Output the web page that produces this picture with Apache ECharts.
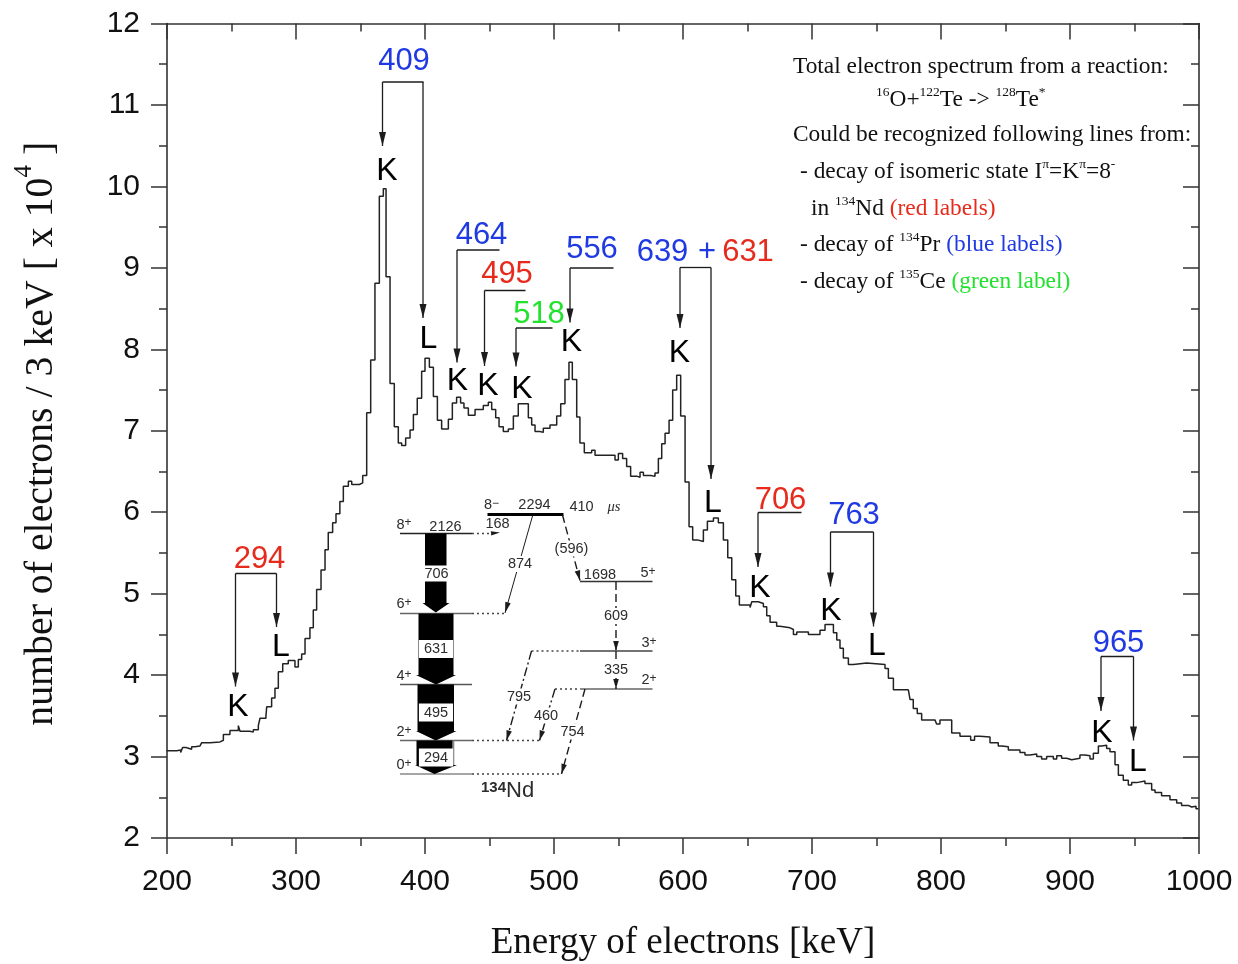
<!DOCTYPE html>
<html><head><meta charset="utf-8">
<style>html,body{margin:0;padding:0;background:#fff}#c{width:1238px;height:964px}</style>
<script src="https://cdn.jsdelivr.net/npm/echarts@6/dist/echarts.min.js"></script>
</head><body><div id="c"></div>
<script>
const energies = [199.7,207.5,210.6,212.1,214.7,219.1,221.7,225.6,226.9,233.3,241.1,243.7,248.8,255.3,256.6,264.3,266.9,270.8,272.1,276.7,277.3,281.1,283.7,286.3,289.7,294,299.2,301.8,304.4,307,310.8,313.4,316,319.4,322.5,325,328.4,331,334,336.7,340.6,343.2,349.1,351.7,354.8,357.9,361.2,364.6,367.7,369.8,372.9,376.2,379.3,381.9,385,388.4,391,394,397.4,400,403.4,406.5,409.6,412.9,418.1,421.2,424.5,427.6,430.2,433.6,438.8,445.2,449.1,451.7,454.8,457.4,460.7,464.6,468.5,472.3,477.5,480.1,482.7,485.3,489.1,491.7,496.9,502.1,505.2,508.5,511.6,514.2,517.6,520.1,523.5,529.2,531.8,547.3,549.9,553.2,556.3,559.4,564.6,566.7,569.3,575,578.3,580.9,583.5,586.1,589.2,592,595.1,598.2,601.6,604.7,607.5,611.2,615.8,618.9,623.6,627.4,631.3,634.7,637.8,640.9,643.7,652,653.3,658.4,662.3,664.9,667.5,672.6,675.2,683,685.6,688.2,694.6,697.2,703.7,706.2,710.1,712.7,716.6,719.2,721.7,724.3,728.2,732.1,733.4,742.4,756.6,759.2,763.1,774.7,776,778.5,781.6,785,795.3,796.6,799.2,804.9,808.3,814.7,820.4,823,826,830.2,838,844.4,847,852.2,856,861.2,865.1,869,874.2,878,881.9,887.1,889.7,893.5,897.4,901.3,907.7,911.6,915.5,918.1,922,924.5,928.4,931,934.9,937.5,941.3,945.2,947.8,951.7,958.1,959.4,963.3,965.9,971,977.5,982.7,986.5,991.7,994.3,997.7,999.5];
const counts = [3.07,3.08,3.05,3.11,3.09,3.12,3.13,3.12,3.17,3.18,3.20,3.27,3.32,3.38,3.31,3.30,3.33,3.38,3.47,3.50,3.61,3.72,3.84,4.04,4.14,4.18,4.10,4.19,4.26,4.45,4.58,4.80,5.05,5.29,5.54,5.75,5.87,5.98,6.13,6.32,6.38,6.34,6.36,6.45,7.22,7.87,8.81,9.88,9.97,8.89,7.58,7.05,6.85,6.82,6.91,7.01,7.20,7.40,7.73,7.89,7.78,7.42,7.13,7.02,7.14,7.34,7.41,7.34,7.28,7.19,7.26,7.31,7.35,7.26,7.16,7.05,6.99,7.02,7.18,7.33,7.33,7.16,7.07,6.99,6.98,7.03,7.07,7.18,7.33,7.63,7.84,7.63,7.17,6.85,6.73,6.76,6.70,6.64,6.72,6.66,6.56,6.44,6.43,6.49,6.45,6.44,6.48,6.66,6.84,6.97,7.13,7.50,7.68,7.18,6.37,5.82,5.66,5.64,5.78,5.89,5.93,5.87,5.66,5.44,5.17,4.97,4.86,4.83,4.90,4.88,4.84,4.73,4.65,4.60,4.58,4.56,4.50,4.53,4.53,4.50,4.50,4.55,4.62,4.62,4.52,4.43,4.33,4.21,4.13,4.12,4.15,4.13,4.08,3.96,3.82,3.80,3.70,3.59,3.53,3.45,3.44,3.40,3.45,3.45,3.29,3.25,3.25,3.20,3.25,3.24,3.17,3.13,3.12,3.08,3.08,3.05,3.02,3.03,3.00,2.97,3.00,2.97,3.01,2.98,2.96,2.98,3.02,3.01,2.97,3.04,3.13,3.14,3.10,3.06,2.90,2.77,2.71,2.65,2.68,2.70,2.67,2.67,2.59,2.56,2.52,2.47,2.43,2.40,2.38,2.39,2.36,2.36,2.32];
const xTicks = [200,1000,100];
const yTicks = [2,12,1];
const xTitle = 'Energy of electrons [keV]';
const yTitle = '{n|number of electrons / 3 keV [ x 10}{s|4}{n| ]}';

const SANS = '"Liberation Sans", Arial, sans-serif', SERIF = '"Liberation Serif", "Times New Roman", serif';
const RED = '#e62a1c', BLUE = '#1f3ae2', GREEN = '#22e22e', INK = '#1c1c1c';
const g = [];
const label = (t, x, y, fill, size) => g.push({type:'text', silent:true, x, y:y+2, z:20, style:{text:t, fill, fontFamily:SANS, fontSize:size||31, align:'center', verticalAlign:'middle'}});
const seg = (x1,y1,x2,y2,o={}) => g.push({type:'line', silent:true, z:19, shape:{x1,y1,x2,y2}, style:{stroke:o.c||INK, lineWidth:o.w||1.3, lineDash:o.d||null}});
const head = (x1,y1,x2,y2,len=14,wid=3.5,c=INK) => {
  const a = Math.atan2(y2-y1,x2-x1), bx=x2-len*Math.cos(a), by=y2-len*Math.sin(a), nx=-Math.sin(a)*wid, ny=Math.cos(a)*wid;
  g.push({type:'polygon', silent:true, z:19, shape:{points:[[x2,y2],[bx+nx,by+ny],[bx-nx,by-ny]]}, style:{fill:c}});
};
const arrow = (x1,y1,x2,y2,o={}) => { seg(x1,y1,x2,y2,o); head(x1,y1,x2,y2,o.len,o.wid); };

// peak annotations: [text, colour, tx, ty, xLeft, xRight, bracketY]
const brackets = [
 ['409',BLUE,404,59.5,382.5,423.5,82],
 ['294',RED,259.5,557,235.5,276.5,573.5],
 ['464',BLUE,481.5,233,457,499.5,250],
 ['495',RED,507,272.5,484.5,525.5,290.5],
 ['518',GREEN,539,312,516,552.5,328],
 ['556',BLUE,592,247.5,570,613.5,268],
 ['706',RED,780.5,498,758,801.5,512.5],
 ['763',BLUE,854,513,830.5,873.5,532],
 ['965',BLUE,1118.5,641,1101,1133.5,656.5]
];
brackets.forEach(b=>{ label(b[0],b[2],b[3],b[1]); seg(b[4],b[6],b[5],b[6]); });
label('639',662.5,250,BLUE); label('+',707,250,BLUE); label('631',748,250,RED);
seg(680,267.5,711,267.5);
// arrows [x, yTop, yTip]
[[382.5,82,146],[423,82,318],[235.5,573.5,686.5],[276.5,573.5,627],[457,250,362.5],[484.5,290.5,366],[516,328,366.5],[570,268,322.5],[680,267.5,328],[711,267.5,479],[758,512.5,567],[830.5,532,586.5],[873.5,532,626.5],[1101,656.5,711],[1133.5,656.5,740.5]]
 .forEach(a=>arrow(a[0],a[1],a[0],a[2]));
// K / L letters
[['K',387,169],['L',428.5,337],['K',238,705],['L',281,645],['K',457.5,379],['K',488,384],['K',522,387],['K',571.5,340],['K',679.5,351],['L',713,501],['K',760,586],['K',831,609],['L',877,644],['K',1102,731],['L',1138,760]]
 .forEach(k=>label(k[0],k[1],k[2],'#000',32));

// note block
const NS = 23.4;
const noteRich = {n:{fontFamily:SERIF,fontSize:NS,fill:'#111',lineHeight:30},s:{fontFamily:SERIF,fontSize:13.5,fill:'#111',verticalAlign:'top',lineHeight:20},r:{fontFamily:SERIF,fontSize:NS,fill:RED,lineHeight:30},b:{fontFamily:SERIF,fontSize:NS,fill:BLUE,lineHeight:30},g:{fontFamily:SERIF,fontSize:NS,fill:GREEN,lineHeight:30}};
[[793,67,'{n|Total electron spectrum from a reaction:}'],
 [876,100,'{s|16}{n|O+}{s|122}{n|Te -> }{s|128}{n|Te}{s|*}'],
 [793,135,'{n|Could be recognized following lines from:}'],
 [800,172,'{n|- decay of isomeric state I}{s|π}{n|=K}{s|π}{n|=8}{s|-}'],
 [811,209,'{n|in }{s|134}{n|Nd }{r|(red labels)}'],
 [800,245,'{n|- decay of }{s|134}{n|Pr }{b|(blue labels)}'],
 [800,282,'{n|- decay of }{s|135}{n|Ce }{g|(green label)}']
].forEach(l=>g.push({type:'text',silent:true,x:l[0],y:l[1],z:20,style:{text:l[2],rich:noteRich,align:'left',verticalAlign:'middle'}}));

// level scheme inset
const INS = '#2c2c2c', SZ = 14.5;
const it = (t,x,y,o={}) => g.push({type:'text',silent:true,x,y,z:22,style:Object.assign({text:t,fill:INS,fontFamily:SANS,fontSize:SZ,align:'center',verticalAlign:'middle'},o)});
const spin = (a,s,x,y) => g.push({type:'text',silent:true,x,y,z:22,style:{text:'{a|'+a+'}{p|'+s+'}',align:'center',verticalAlign:'middle',rich:{a:{fontFamily:SANS,fontSize:SZ,fill:INS},p:{fontFamily:SANS,fontSize:12,fill:INS,verticalAlign:'top'}}}});
[[487.5,563.5,514.5,3,'#000'],[400,472,533.5,1.4,'#222'],[400,472,613.5,1.4,'#666'],[400,472,684.5,1.4,'#555'],[400,472,740.5,1.4,'#666'],[400,472,774,1.6,'#888'],[580,652.5,581.5,1.3,'#333'],[580,652.5,651,1.3,'#444'],[580,652.5,689,1.6,'#666']]
 .forEach(l=>seg(l[0],l[2],l[1],l[2],{w:l[3],c:l[4]}));
const dot = {d:[2,3],w:1.3,c:'#444'};
seg(472,533.5,493,533.5,dot); seg(472,613.5,505,613.5,dot); seg(472,740.5,539,740.5,dot); seg(472,774,561.5,774,dot); seg(531.5,651,580,651,dot); seg(555,689,580,689,dot);
head(490,533.5,500,532.5,9,2.2);
// E2 cascade bands [xL,xR,yTop,yBase,headL,headR,yTip]
[[425,446.5,533.5,603,422.5,449.5,612.5],[418.5,453.5,613.5,675,416,456,684.5],[417.5,454,684.5,731,416,456.5,740.5],[416.5,452.5,740.5,765,415,457,774]]
 .forEach(b=>{ const c=(b[0]+b[1])/2; g.push({type:'polygon',silent:true,z:21,shape:{points:[[b[0],b[2]],[b[1],b[2]],[b[1],b[3]],[b[5],b[3]],[c,b[6]],[b[4],b[3]],[b[0],b[3]]]},style:{fill:'#000'}}); });
seg(453.5,740.5,453.5,765,{w:1.6,c:'#888'});
const box = {backgroundColor:'#fff',padding:[2,5,1,5]};
const gapBg = {backgroundColor:'#fff',padding:[1,1,0,1]};
it('706',436.5,573.5,{backgroundColor:'#fff',padding:[1,3,0,3]}); it('631',436,649,box); it('495',436,712.5,box); it('294',436,757.5,box);
spin('8','+',404,524.5); spin('6','+',404,604); spin('4','+',404,676); spin('2','+',404,732); spin('0','+',404,765);
spin('8','−',491.5,505); spin('5','+',648,573); spin('3','+',649,643); spin('2','+',649,680);
it('2294',534.5,505); it('410',581.5,507); it('μs',614,507,{fontStyle:'italic',fontFamily:SERIF}); it('2126',445.5,526.5); it('168',497.5,523.5); it('1698',600,575);
it('(596)',571.5,548.5,gapBg); it('874',520,564,gapBg); it('609',616,616,gapBg); it('335',616,670,gapBg); it('795',519,696.5,gapBg); it('460',546,715.5,gapBg); it('754',572.5,731.5,gapBg);
const dash = {d:[8,4],w:1.4,len:10,wid:2.8};
arrow(532.5,516,505,613,{w:1,len:11,wid:2.8});
arrow(562.5,515,580,580.5,dash); arrow(616,582,616,651,dash); arrow(616,651,616,689,dash);
arrow(531.5,651,506.5,740.5,{d:[9,3,2,3],w:1.4,len:10,wid:2.8}); arrow(555,689,539.5,740.5,{d:[9,3,2,3],w:1.4,len:10,wid:2.8}); arrow(585,689,561.5,774,dash);
g.push({type:'text',silent:true,x:481,y:791,z:22,style:{text:'{a|134}{b|Nd}',align:'left',verticalAlign:'middle',rich:{a:{fontFamily:SANS,fontSize:15,fontWeight:'bold',fill:INS,verticalAlign:'top'},b:{fontFamily:SANS,fontSize:22,fill:INS}}}});

const axisLine = {onZero:false,lineStyle:{color:'#333',width:1.6}};
const xBase = {type:'value',min:xTicks[0],max:xTicks[1],interval:xTicks[2],splitLine:{show:false},axisLine};
const yBase = {type:'value',min:yTicks[0],max:yTicks[1],interval:yTicks[2],splitLine:{show:false},axisLine};
const tick = (inside)=>({show:true,inside,length:16,lineStyle:{color:'#333',width:1.5}});
const minor = ()=>({show:true,splitNumber:2,length:8,lineStyle:{color:'#333',width:1.5}});
const chart = echarts.init(document.getElementById('c'),null,{renderer:'canvas'});
chart.setOption({
 animation:false, backgroundColor:'#fff',
 grid:{left:167,right:39,top:23.5,bottom:126,containLabel:false,outerBoundsMode:'none'},
 xAxis:[
  Object.assign({},xBase,{position:'bottom',axisTick:tick(false),minorTick:minor(),
    axisLabel:{fontFamily:SANS,fontSize:30,color:'#111',margin:29,hideOverlap:false,showMinLabel:true,showMaxLabel:true,formatter:v=>String(v)},
    name:xTitle,nameLocation:'middle',nameGap:87,nameTextStyle:{fontFamily:SERIF,fontSize:37,color:'#111'}}),
  Object.assign({},xBase,{position:'top',axisTick:tick(true),minorTick:minor(),axisLabel:{show:false}})
 ],
 yAxis:[
  Object.assign({},yBase,{position:'left',axisTick:tick(false),minorTick:minor(),
    axisLabel:{fontFamily:SANS,fontSize:30,color:'#111',margin:27,padding:[2,0,0,0],showMinLabel:true,showMaxLabel:true},
    name:yTitle,nameLocation:'middle',nameRotate:90,nameGap:105,
    nameTextStyle:{padding:[0,6,0,0],rich:{n:{fontFamily:SERIF,fontSize:39.8,color:'#111',lineHeight:50,verticalAlign:'bottom'},s:{fontFamily:SERIF,fontSize:25,color:'#111',verticalAlign:'top',lineHeight:26}}}}),
  Object.assign({},yBase,{position:'right',axisTick:tick(true),minorTick:minor(),axisLabel:{show:false}})
 ],
 series:[{type:'line',xAxisIndex:0,yAxisIndex:0,step:'end',showSymbol:false,silent:true,
   lineStyle:{color:'#222',width:1.5},data:energies.map((e,i)=>[e,counts[i]])}],
 graphic:g
});
</script></body></html>
